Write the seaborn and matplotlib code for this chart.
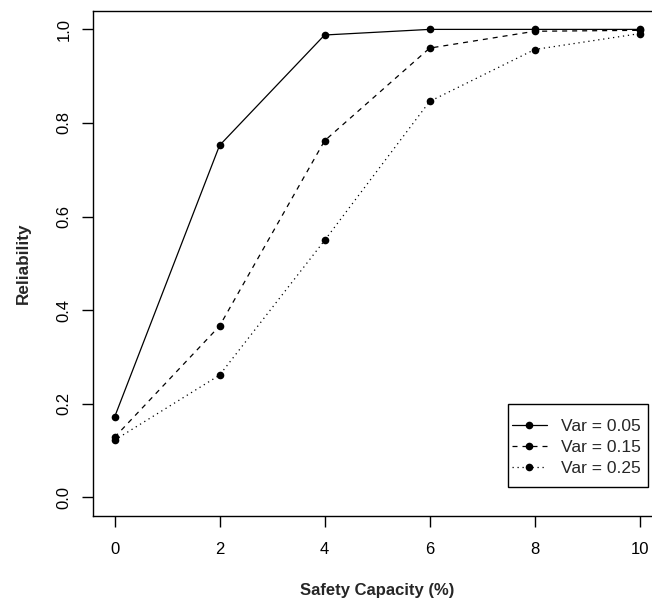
import numpy as np
import pandas as pd
import matplotlib
matplotlib.use("Agg")
import matplotlib.pyplot as plt
from matplotlib.patches import Rectangle
import seaborn as sns

# --------------------------------------------------------------
# Datos
# --------------------------------------------------------------
capacity = [0, 2, 4, 6, 8, 10]
rel_005 = [0.171, 0.752, 0.988, 1.000, 1.000, 1.000]
rel_015 = [0.128, 0.366, 0.762, 0.960, 0.996, 0.998]
rel_025 = [0.122, 0.261, 0.549, 0.846, 0.957, 0.991]
series_labels = ["Var = 0.05", "Var = 0.15", "Var = 0.25"]

df = pd.DataFrame({
    "capacity": capacity * 3,
    "reliability": rel_005 + rel_015 + rel_025,
    "serie": np.repeat(series_labels, len(capacity)),
})

sns.set_style("ticks")
plt.rcParams["font.family"] = ["Liberation Sans", "DejaVu Sans"]

fig = plt.figure(figsize=(6.52, 6.03), dpi=100)
ax = fig.add_axes([0.1434, 0.1443, 0.870, 0.838])

sns.lineplot(
    data=df, x="capacity", y="reliability", style="serie",
    markers=["o", "o", "o"], dashes=["", (4, 4), (1, 3)],
    color="black", linewidth=0.9, markersize=5.5, markeredgewidth=0,
    legend=False, ax=ax,
)

ax.set_xlim(-0.4, 10.4)
ax.set_ylim(-0.04, 1.04)
ax.set_xticks([0, 2, 4, 6, 8, 10])
ax.set_yticks([0.0, 0.2, 0.4, 0.6, 0.8, 1.0])
ax.set_yticklabels(["0.0", "0.2", "0.4", "0.6", "0.8", "1.0"])

for s in ax.spines.values():
    s.set_linewidth(1.0)
    s.set_color("black")
ax.tick_params(axis="both", length=8, width=1.0, colors="black", labelsize=12)
ax.tick_params(axis="x", pad=11)
ax.tick_params(axis="y", pad=8)
for lab in ax.get_yticklabels():
    lab.set_rotation(90)
    lab.set_va("center")

ax.set_xlabel("Safety Capacity (%)", fontsize=12, fontweight="bold")
ax.set_ylabel("Reliability", fontsize=12.3, fontweight="bold")
ax.xaxis.set_label_coords(0.5, -0.132)
ax.yaxis.set_label_coords(-0.111, 0.5)

# caja de la leyenda estilo R (marco dibujado aparte)
ax.add_patch(Rectangle((0.7315, 0.0574), 0.2456, 0.1642, transform=ax.transAxes,
                       facecolor="white", edgecolor="black", linewidth=1.0,
                       zorder=4.9, clip_on=False))
leg = ax.legend(
    handles=ax.lines[:3], labels=series_labels,
    loc="center", bbox_to_anchor=(0.851, 0.1355),
    frameon=False, borderpad=0, borderaxespad=0,
    fontsize=12.5, handlelength=2.0, handletextpad=0.8,
    labelspacing=0.35, numpoints=1,
)
leg.set_zorder(5)

fig.savefig("out.png", dpi=100)
